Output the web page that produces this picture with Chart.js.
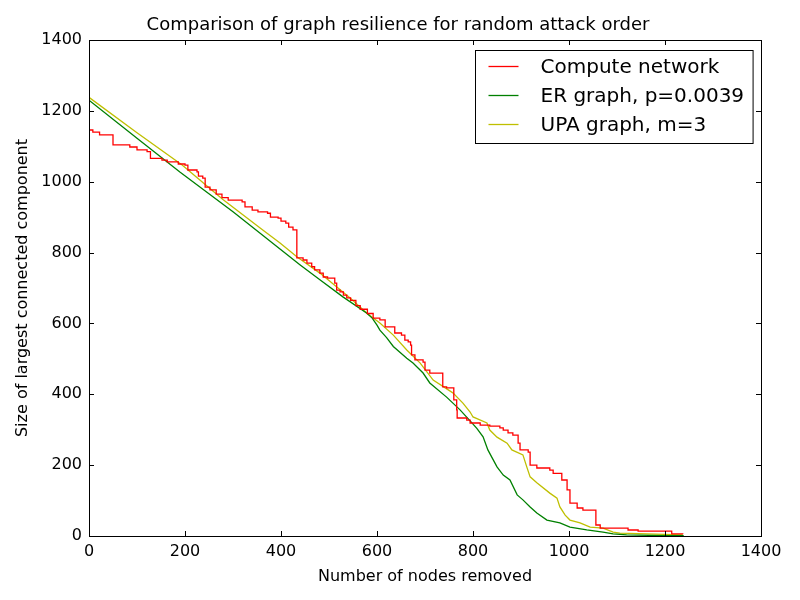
<!DOCTYPE html>
<html>
<head>
<meta charset="utf-8">
<script src="https://cdn.jsdelivr.net/npm/chart.js@4.4.1/dist/chart.umd.min.js"></script>
<style>
    html, body { margin: 0; padding: 0; background: #fff; }
    #wrap { width: 800px; height: 600px; }
</style>
</head>
<body>
<div id="wrap"><canvas id="chart" width="800" height="600"></canvas></div>
<script>
// Tick labels
const xTicks = [0, 200, 400, 600, 800, 1000, 1200, 1400];
const yTicks = [0, 200, 400, 600, 800, 1000, 1200, 1400];

// Series labels
const seriesNames = ['Compute network', 'ER graph, p=0.0039', 'UPA graph, m=3'];
const chartTitle = 'Comparison of graph resilience for random attack order';

// Compute network (x where the size drops, size after the drop)
const computeX = [0, 8, 22, 50, 85, 100, 121, 128, 152, 163, 186, 200, 206, 225, 228, 237, 242, 252, 265, 277,
    290, 319, 325, 340, 352, 372, 378, 394, 400, 410, 416, 425, 433, 446, 454, 464, 470, 481, 488, 497,
    512, 516, 523, 530, 537, 545, 556, 565, 580, 592, 606, 617, 637, 651, 658, 665, 670, 672, 679, 696,
    700, 710, 737, 745, 760, 766, 767, 787, 794, 815, 835, 856, 863, 873, 883, 894, 898, 915, 919, 933,
    960, 967, 985, 996, 1002, 1017, 1029, 1056, 1065, 1123, 1144, 1214, 1237];
const computeY = [1146, 1140, 1132, 1104, 1098, 1090, 1085, 1066, 1061, 1056, 1050, 1047, 1033, 1028, 1016, 1010, 985, 977, 965, 955,
    948, 943, 929, 920, 915, 911, 900, 897, 889, 883, 872, 864, 785, 779, 770, 760, 751, 742, 731, 728,
    714, 694, 689, 680, 672, 665, 650, 640, 628, 615, 610, 590, 573, 567, 553, 548, 539, 511, 497, 491,
    468, 460, 421, 418, 384, 356, 333, 327, 319, 313, 310, 305, 299, 291, 285, 262, 243, 237, 200, 192,
    186, 177, 158, 130, 93, 79, 73, 31, 22, 17, 14, 6, 5];

// ER graph
const erX = [0, 100, 190, 300, 440, 481, 529, 579, 590, 600, 606, 620, 634, 662, 675, 696, 710, 745, 773, 794,
    808, 821, 831, 850, 863, 877, 892, 904, 919, 933, 954, 981, 1002, 1037, 1071, 1092, 1120, 1200, 1239];
const erY = [1230, 1123, 1027, 915, 765, 723, 675, 629, 615, 595, 581, 560, 535, 502, 488, 460, 432, 392, 356, 325,
    304, 280, 243, 195, 172, 158, 116, 102, 82, 65, 45, 37, 25, 17, 11, 6, 3, 1, 1];

// UPA graph
const upaX = [0, 100, 194, 279, 362, 398, 433, 481, 544, 579, 606, 634, 662, 690, 717, 758, 779, 794, 800, 829,
    835, 850, 871, 881, 904, 912, 919, 933, 960, 975, 981, 992, 1002, 1023, 1044, 1071, 1092, 1106, 1237];
const upaY = [1238, 1138, 1047, 950, 864, 827, 788, 742, 672, 629, 601, 567, 525, 488, 440, 404, 375, 350, 336, 319,
    299, 279, 262, 243, 229, 195, 167, 150, 121, 107, 82, 59, 45, 37, 25, 22, 11, 8, 3];

const seriesColors = ['#ff0000', '#008000', '#bfbf00'];

const FONT = "'DejaVu Sans', 'Liberation Sans', sans-serif";

function toPoints(xs, ys) {
    return xs.map((x, i) => ({ x: x, y: ys[i] }));
}

// Title, inward tick marks on all four sides and the top/right frame
const frameTicks = {
    id: 'frameTicks',
    afterDraw(chart) {
        const { ctx, chartArea: a, scales } = chart;
        const len = 5;
        ctx.save();
        ctx.fillStyle = '#000';
        ctx.font = '18px ' + FONT;
        ctx.textAlign = 'center';
        ctx.textBaseline = 'middle';
        ctx.fillText(chartTitle, 398, 25);

        ctx.strokeStyle = '#000';
        ctx.lineWidth = 1;
        ctx.beginPath();
        xTicks.forEach(v => {
            const px = Math.round(scales.x.getPixelForValue(v)) + 0.5;
            ctx.moveTo(px, a.bottom); ctx.lineTo(px, a.bottom - len);
            ctx.moveTo(px, a.top); ctx.lineTo(px, a.top + len);
        });
        yTicks.forEach(v => {
            const py = Math.round(scales.y.getPixelForValue(v)) + 0.5;
            ctx.moveTo(a.left, py); ctx.lineTo(a.left + len, py);
            ctx.moveTo(a.right, py); ctx.lineTo(a.right - len, py);
        });
        ctx.stroke();
        ctx.strokeRect(Math.round(a.left) + 0.5, Math.round(a.top) + 0.5,
            Math.round(a.right - a.left), Math.round(a.bottom - a.top));
        ctx.restore();
    }
};

// Legend box in the upper right corner of the plot area
const boxLegend = {
    id: 'boxLegend',
    afterDraw(chart) {
        const { ctx, chartArea: a } = chart;
        const sets = chart.data.datasets;
        ctx.save();
        ctx.font = '20px ' + FONT;
        const textW = Math.max(...sets.map(d => ctx.measureText(d.label).width));
        const w = 13 + 30 + 22 + textW + 9;
        const h = 93;
        const left = Math.round(a.right - 8 - w) + 0.5;
        const top = Math.round(a.top + 10) + 0.5;
        ctx.fillStyle = '#fff';
        ctx.fillRect(left, top, w, h);
        ctx.strokeStyle = '#000';
        ctx.lineWidth = 1;
        ctx.strokeRect(left, top, w, h);
        ctx.textBaseline = 'middle';
        ctx.textAlign = 'left';
        sets.forEach((d, i) => {
            const cy = top + 16 + i * 29;
            ctx.strokeStyle = d.borderColor;
            ctx.lineWidth = 1.3;
            ctx.beginPath();
            ctx.moveTo(left + 13, cy);
            ctx.lineTo(left + 43, cy);
            ctx.stroke();
            ctx.fillStyle = '#000';
            ctx.fillText(d.label, left + 65, cy + 1);
        });
        ctx.restore();
    }
};

new Chart(document.getElementById('chart'), {
    type: 'line',
    data: {
        datasets: [
            {
                label: seriesNames[0],
                data: toPoints(computeX, computeY),
                borderColor: seriesColors[0],
                borderWidth: 1.3,
                pointRadius: 0,
                stepped: 'before',
                fill: false
            },
            {
                label: seriesNames[1],
                data: toPoints(erX, erY),
                borderColor: seriesColors[1],
                borderWidth: 1.3,
                pointRadius: 0,
                tension: 0,
                fill: false
            },
            {
                label: seriesNames[2],
                data: toPoints(upaX, upaY),
                borderColor: seriesColors[2],
                borderWidth: 1.3,
                pointRadius: 0,
                tension: 0,
                fill: false
            }
        ]
    },
    options: {
        responsive: false,
        animation: false,
        devicePixelRatio: 1,
        layout: { padding: { left: 0, right: 39, top: 40, bottom: 0 } },
        plugins: {
            legend: { display: false },
            tooltip: { enabled: false },
            title: { display: false }
        },
        scales: {
            x: {
                type: 'linear',
                min: 0,
                max: 1400,
                afterFit: s => { s.height = 64; },
                afterBuildTicks: s => { s.ticks = xTicks.map(v => ({ value: v })); },
                ticks: {
                    color: '#000',
                    padding: 6,
                    maxRotation: 0,
                    font: { family: FONT, size: 16 },
                    callback: v => String(v)
                },
                grid: { display: false, drawTicks: false },
                border: { display: true, color: '#000', width: 1 },
                title: {
                    display: true,
                    text: 'Number of nodes removed',
                    color: '#000',
                    font: { family: FONT, size: 16 },
                    padding: { top: 0, bottom: 14 }
                }
            },
            y: {
                type: 'linear',
                min: 0,
                max: 1400,
                afterFit: s => { s.width = 89; },
                afterBuildTicks: s => { s.ticks = yTicks.map(v => ({ value: v })); },
                ticks: {
                    color: '#000',
                    padding: 7,
                    font: { family: FONT, size: 16 },
                    callback: v => String(v)
                },
                grid: { display: false, drawTicks: false },
                border: { display: true, color: '#000', width: 1 },
                title: {
                    display: true,
                    text: 'Size of largest connected component',
                    color: '#000',
                    font: { family: FONT, size: 16 },
                    padding: { top: 13, bottom: 0 }
                }
            }
        }
    },
    plugins: [frameTicks, boxLegend]
});
</script>
</body>
</html>
